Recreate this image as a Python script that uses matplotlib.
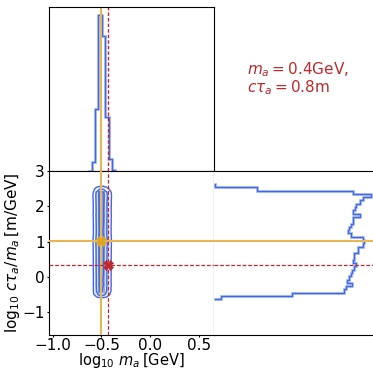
import numpy as np
import matplotlib
matplotlib.use("Agg")
import matplotlib.pyplot as plt
from matplotlib.colors import LinearSegmentedColormap

# Marginal histogram of log10 m_a (bin edges and counts)
logm_edges = np.array([-0.634, -0.599, -0.565, -0.530, -0.495, -0.461, -0.426, -0.391, -0.357])
logm_counts = np.array([2, 56, 397, 1000, 867, 348, 75, 6])

# Marginal histogram of log10 (c tau_a / m_a), from low to high
logct_lo, logct_width = -0.63, 0.0932
logct_counts = np.array([22, 235, 390, 397, 415, 400, 405, 412, 415, 422, 427, 419,
                         422, 422, 432, 432, 447, 452, 447, 412, 402, 405, 412, 419,
                         419, 440, 419, 425, 427, 440, 447, 472, 419, 129, 2])
logct_edges = logct_lo + logct_width * np.arange(len(logct_counts) + 1)

# Best fit and true point
best_logm, best_logct = -0.507, 1.025
m_true, ctau_true = 0.37, 0.8
true_logm = np.log10(m_true)
true_logct = np.log10(ctau_true / m_true)

xlim = (-1.038, 0.658)
ylim = (-1.64, 3.0)
xticks = [-1.0, -0.5, 0.0, 0.5]
yticks = [-1, 0, 1, 2, 3]

blue = "#4169e1"
orange = "#e8b655"
orange_mk = "#daa520"
red = "#c0282d"

W, H = 373, 369
fig = plt.figure(figsize=(W / 100, H / 100), dpi=100)

def frac(l, t, r, b):
    return [l / W, 1 - b / H, (r - l) / W, (b - t) / H]

ax_top = fig.add_axes(frac(49, 7, 214, 171))
ax_main = fig.add_axes(frac(49, 171, 214, 335))
ax_right = fig.add_axes(frac(214, 171, 379, 335))

# top marginal
ax_top.stairs(logm_counts, logm_edges, color=blue, lw=2.2, alpha=0.35)
ax_top.stairs(logm_counts, logm_edges, color=blue, lw=1.0)
ax_top.axvline(best_logm, color=orange, lw=1.5)
ax_top.axvline(true_logm, color=red, lw=1.0, ls="--", dashes=(2.5, 1.5))
ax_top.set_xlim(xlim)
ax_top.set_ylim(0, 1.05 * logm_counts.max())
ax_top.set_xticks([])
ax_top.set_yticks([])

# right marginal
ax_right.stairs(logct_counts, logct_edges, orientation="horizontal", color=blue, lw=2.2, alpha=0.35)
ax_right.stairs(logct_counts, logct_edges, orientation="horizontal", color=blue, lw=1.0)
ax_right.axhline(best_logct, color=orange, lw=1.5)
ax_right.axhline(true_logct, color=red, lw=0.9, ls="--", dashes=(3, 1.5))
ax_right.set_ylim(ylim)
ax_right.set_xlim(0, 1.05 * logct_counts.max())
ax_right.set_xticks([])
ax_right.set_yticks([])
ax_right.spines["left"].set_visible(False)

# joint density from marginals
px = logm_counts / logm_counts.sum()
py = logct_counts / logct_counts.sum()
dens = np.outer(py, px)
cmap = LinearSegmentedColormap.from_list(
    "cloud", [(0.25, 0.41, 0.88, 0.0), (0.25, 0.41, 0.88, 0.35), (0.25, 0.41, 0.88, 0.85)])
ax_main.pcolormesh(logm_edges, logct_edges, dens, cmap=cmap, shading="flat",
                   vmin=0, vmax=dens.max(), zorder=1)

xc = 0.5 * (logm_edges[:-1] + logm_edges[1:])
yc = 0.5 * (logct_edges[:-1] + logct_edges[1:])
dx = logm_edges[1] - logm_edges[0]
xc_p = np.concatenate([[xc[0] - dx], xc, [xc[-1] + dx]])
yc_p = np.concatenate([[yc[0] - logct_width], yc, [yc[-1] + logct_width]])
dens_p = np.pad(dens, 1)
flat = np.sort(dens.ravel())[::-1]
cum = np.cumsum(flat)
levels = sorted(flat[np.searchsorted(cum, q)] for q in (0.99, 0.9, 0.6))
ax_main.contour(xc_p, yc_p, dens_p, levels=levels, colors=blue, linewidths=1.0, zorder=2)

ax_main.axvline(best_logm, color=orange, lw=1.5, zorder=3)
ax_main.axhline(best_logct, color=orange, lw=1.5, zorder=3)
ax_main.axvline(true_logm, color=red, lw=0.9, ls="--", dashes=(3, 1.5), zorder=3)
ax_main.axhline(true_logct, color=red, lw=0.9, ls="--", dashes=(3, 1.5), zorder=3)
ax_main.plot(best_logm, best_logct, marker="X", ms=7, color=orange_mk, mec=orange_mk, mew=0.5, zorder=4)
ax_main.plot(true_logm, true_logct, marker="X", ms=7, color=red, mec=red, mew=0.5, zorder=4)

ax_main.set_xlim(xlim)
ax_main.set_ylim(ylim)
ax_main.set_xticks(xticks)
ax_main.set_yticks(yticks)
ax_main.tick_params(labelsize=11, length=1.5, pad=1.5)
ax_main.tick_params(axis="x", pad=0.3)
ax_main.set_xlabel(r"$\log_{10}\,m_a\,$[GeV]", fontsize=10.5, labelpad=-1)
ax_main.set_ylabel(r"$\log_{10}\,c\tau_a/m_a\,$[m/GeV]", fontsize=11, labelpad=0)

fig.text(247 / W, 1 - 60 / H,
         f"$m_a = {m_true:.1f}$GeV,\n$c\\tau_a = {ctau_true:.1f}$m",
         color=red, fontsize=11, ha="left", va="top", linespacing=1.0)

fig.savefig("out.png", dpi=100)
